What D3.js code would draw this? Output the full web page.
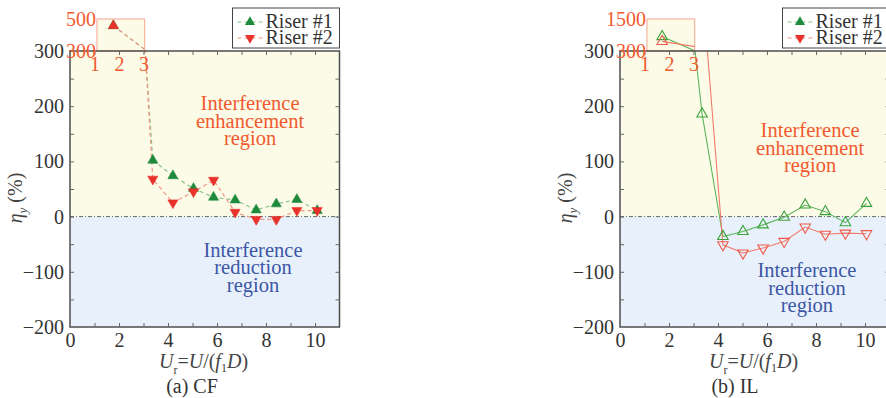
<!DOCTYPE html>
<html>
<head>
<meta charset="utf-8">
<script src="https://cdn.jsdelivr.net/npm/d3@7"></script>
<style>
body { margin: 0; background: #fff; }
svg { display: block; font-family: "Liberation Serif", "Times New Roman", serif; }
</style>
</head>
<body>
<svg id="chart" width="886" height="398"></svg>
<script>
// tick labels
const xTicks = [0, 2, 4, 6, 8, 10];
const yTicks = [-200, -100, 0, 100, 200, 300];
const insetXTicks = [1, 2, 3];
const seriesNames = ['Riser #1', 'Riser #2'];

// (a) CF - the point at 3.06 is where the curve leaves the inset
const cfUr = [1.77, 3.06, 3.38, 4.2, 5.04, 5.86, 6.74, 7.6, 8.42, 9.26, 10.09];
const cfRiser1 = [458, 308, 102, 74, 51, 35, 30, 12, 23, 31, 11];
const cfRiser2 = [458, 308, 68, 25, 45, 66, 8, -5, -5, 11, 11];

// (b) IL
const ilUr = [1.72, 3.35, 4.2, 5.02, 5.84, 6.7, 7.56, 8.38, 9.2, 10.06];
const ilRiser1 = [840, 186, -36, -27, -15, -1, 21, 9, -11, 24];
const ilRiser2 = [660, 420, -51, -66, -57, -45, -19, -32, -30, -31];

const W = 886, H = 398;
const orange = '#f05a2e';
const green = '#1f8a3b', red = '#e8312a';

const panels = [
  { id: 'cf', left: 0, ur: cfUr, values: [cfRiser1, cfRiser2], insetMax: 500, open: false,
    caption: '(a) CF', captionX: 192, enhance: [7.35, 193], reduce: [7.47, -73] },
  { id: 'il', left: 550, ur: ilUr, values: [ilRiser1, ilRiser2], insetMax: 1500, open: true,
    caption: '(b) IL', captionX: 735, enhance: [7.76, 144], reduce: [7.63, -110] }
];

const svg = d3.select('#chart');
svg.append('rect').attr('width', W).attr('height', H).attr('fill', '#fff');

const fmt = d => d < 0 ? '\u2212' + (-d) : d;

panels.forEach(p => {
  const g = svg.append('g').attr('transform', `translate(${p.left},0)`);

  const x = d3.scaleLinear().domain([0, 11]).range([70, 339.5]);
  const y = d3.scaleLinear().domain([-200, 300]).range([327, 51]);
  const yIn = d3.scaleLinear().domain([300, p.insetMax]).range([51, 19]);
  const inX = [1.1, 3.05];

  // clip regions
  const defs = g.append('defs');
  defs.append('clipPath').attr('id', 'main-' + p.id).append('rect')
    .attr('x', x(0)).attr('y', y(300)).attr('width', x(11) - x(0)).attr('height', y(-200) - y(300));
  defs.append('clipPath').attr('id', 'inset-' + p.id).append('rect')
    .attr('x', x(inX[0])).attr('y', yIn(p.insetMax)).attr('width', x(inX[1]) - x(inX[0])).attr('height', yIn(300) - yIn(p.insetMax));

  // region backgrounds
  g.append('rect').attr('x', x(0)).attr('y', y(300)).attr('width', x(11) - x(0)).attr('height', y(0) - y(300))
    .attr('fill', '#fcfbe8');
  g.append('rect').attr('x', x(0)).attr('y', y(0)).attr('width', x(11) - x(0)).attr('height', y(-200) - y(0))
    .attr('fill', '#e8f1fb');

  // inset box
  g.append('rect').attr('x', x(inX[0])).attr('y', yIn(p.insetMax))
    .attr('width', x(inX[1]) - x(inX[0])).attr('height', yIn(300) - yIn(p.insetMax))
    .attr('fill', '#fcfbe8').attr('stroke', '#f6a48f').attr('stroke-width', 1);

  // zero line
  g.append('line').attr('x1', x(0)).attr('x2', x(11)).attr('y1', y(0)).attr('y2', y(0))
    .attr('stroke', '#666').attr('stroke-width', 1).attr('stroke-dasharray', '4,2,1,2');

  // region labels
  const regionText = (pos, lines, color) => {
    const t = g.append('text').attr('text-anchor', 'middle').attr('font-size', 20.5).attr('fill', color);
    lines.forEach((s, i) => {
      t.append('tspan').attr('x', x(pos[0])).attr('y', y(pos[1]) + i * 17.5).text(s);
    });
  };
  regionText(p.enhance, ['Interference', 'enhancement', 'region'], orange);
  regionText(p.reduce, ['Interference', 'reduction', 'region'], '#3d56a6');

  const lineColors = p.open ? ['#5db55d', '#f27a6a'] : ['#8cc68c', '#f29684'];
  const markColors = p.open ? ['#3aa23a', '#ef5a48'] : [green, red];

  const views = [
    { ys: y, clip: 'main-' + p.id, inside: (u, v) => v >= -200 && v <= 300, up: [true, false] },
    { ys: yIn, clip: 'inset-' + p.id, inside: (u, v) => u >= inX[0] && u <= inX[1] && v >= 300 && v <= p.insetMax, up: [true, true] }
  ];

  views.forEach(vw => {
    const layer = g.append('g').attr('clip-path', `url(#${vw.clip})`);
    p.values.forEach((vals, si) => {
      const pts = vals.map((v, i) => [p.ur[i], v]);
      const line = d3.line().x(d => x(d[0])).y(d => vw.ys(d[1]));
      layer.append('path').datum(pts)
        .attr('d', line)
        .attr('fill', 'none')
        .attr('stroke', lineColors[si])
        .attr('stroke-width', p.open ? 1.1 : 1.2)
        .attr('stroke-dasharray', p.open ? null : '4,3');
    });
    p.values.forEach((vals, si) => {
      const pts = vals.map((v, i) => [p.ur[i], v]).filter(d => vw.inside(d[0], d[1]));
      layer.selectAll(null).data(pts).enter().append('path')
        .attr('d', d3.symbol(d3.symbolTriangle, p.open ? 48 : 44))
        .attr('transform', d => `translate(${x(d[0])},${vw.ys(d[1])})` + (vw.up[si] ? '' : ' rotate(180)'))
        .attr('fill', p.open ? 'none' : markColors[si])
        .attr('stroke', markColors[si])
        .attr('stroke-width', p.open ? 1.1 : 0.6);
    });
  });

  // frame
  g.append('rect').attr('x', x(0)).attr('y', y(300)).attr('width', x(11) - x(0)).attr('height', y(-200) - y(300))
    .attr('fill', 'none').attr('stroke', '#4d4d4d').attr('stroke-width', 1.5);

  // inward minor ticks
  const tickStyle = sel => {
    sel.select('.domain').remove();
    sel.selectAll('line').attr('stroke', '#666');
  };
  g.append('g').attr('transform', `translate(0,${y(-200)})`)
    .call(d3.axisBottom(x).tickValues(d3.range(1, 11)).tickSize(-4).tickFormat('')).call(tickStyle);
  g.append('g').attr('transform', `translate(0,${y(300)})`)
    .call(d3.axisTop(x).tickValues(d3.range(1, 11)).tickSize(-4).tickFormat('')).call(tickStyle);
  g.append('g').attr('transform', `translate(${x(0)},0)`)
    .call(d3.axisLeft(y).tickValues(d3.range(-150, 300, 50)).tickSize(-4).tickFormat('')).call(tickStyle);
  g.append('g').attr('transform', `translate(${x(11)},0)`)
    .call(d3.axisRight(y).tickValues(d3.range(-150, 300, 50)).tickSize(-4).tickFormat('')).call(tickStyle);

  // tick labels
  const xa = g.append('g').attr('transform', `translate(0,${y(-200)})`)
    .call(d3.axisBottom(x).tickValues(xTicks).tickSize(0));
  xa.attr('font-family', null).attr('font-size', 20);
  xa.select('.domain').remove();
  xa.selectAll('text').attr('y', 20).attr('dy', 0).attr('fill', '#333');

  const ya = g.append('g').attr('transform', `translate(${x(0)},0)`)
    .call(d3.axisLeft(y).tickValues(yTicks).tickSize(0).tickPadding(6).tickFormat(fmt));
  ya.attr('font-family', null).attr('font-size', 20);
  ya.select('.domain').remove();
  ya.selectAll('text').attr('fill', '#333');

  // inset labels
  const iy = g.append('g').attr('transform', `translate(${x(inX[0]) - 1},0)`)
    .call(d3.axisLeft(yIn).tickValues([300, p.insetMax]).tickSize(0).tickPadding(0).tickFormat(d3.format('d')));
  iy.attr('font-family', null).attr('font-size', 20);
  iy.select('.domain').remove();
  iy.selectAll('text').attr('fill', orange);

  const ix = g.append('g').attr('transform', `translate(0,${yIn(300)})`)
    .call(d3.axisBottom(x).tickValues(insetXTicks).tickSize(0));
  ix.attr('font-family', null).attr('font-size', 20);
  ix.select('.domain').remove();
  ix.selectAll('text').attr('y', 20).attr('dy', 0).attr('fill', orange);

  // legend
  const lg = g.append('g').attr('transform', `translate(${x(11) - 107},8)`);
  lg.append('rect').attr('width', 107).attr('height', 40).attr('fill', '#fff')
    .attr('stroke', '#444').attr('stroke-width', 1);
  seriesNames.forEach((name, si) => {
    const cy = 14 + si * 16;
    lg.append('line').attr('x1', 5).attr('x2', 30).attr('y1', cy).attr('y2', cy)
      .attr('stroke', ['#8cc68c', '#f29684'][si]).attr('stroke-width', 1.2).attr('stroke-dasharray', '4,3');
    lg.append('path').attr('d', d3.symbol(d3.symbolTriangle, 44))
      .attr('transform', `translate(17.5,${cy})` + (si ? ' rotate(180)' : ''))
      .attr('fill', [green, red][si]);
    lg.append('text').attr('x', 33).attr('y', cy + 6).attr('font-size', 20).attr('fill', '#333').text(name);
  });

  // axis titles
  const xt = g.append('text').attr('x', 203.5).attr('y', 368).attr('text-anchor', 'middle')
    .attr('font-size', 20).attr('fill', '#444');
  xt.append('tspan').attr('font-style', 'italic').text('U');
  xt.append('tspan').attr('font-size', 12).attr('dy', 6).text('r');
  xt.append('tspan').attr('dy', -6).text('=');
  xt.append('tspan').attr('font-style', 'italic').text('U');
  xt.append('tspan').text('/(');
  xt.append('tspan').attr('font-style', 'italic').text('f');
  xt.append('tspan').attr('font-size', 12).attr('dy', 4).text('1');
  xt.append('tspan').attr('font-style', 'italic').attr('dy', -4).text('D');
  xt.append('tspan').text(')');

  const yt = g.append('text').attr('transform', 'translate(22,198) rotate(-90)')
    .attr('text-anchor', 'middle').attr('font-size', 20).attr('fill', '#444');
  yt.append('tspan').attr('font-style', 'italic').text('\u03b7');
  yt.append('tspan').attr('font-style', 'italic').attr('font-size', 13).attr('dy', 5).text('y');
  yt.append('tspan').attr('dy', -5).text(' (%)');

  g.append('text').attr('x', p.captionX - p.left).attr('y', 393).attr('text-anchor', 'middle')
    .attr('font-size', 20).attr('fill', '#333').text(p.caption);
});
</script>
</body>
</html>
